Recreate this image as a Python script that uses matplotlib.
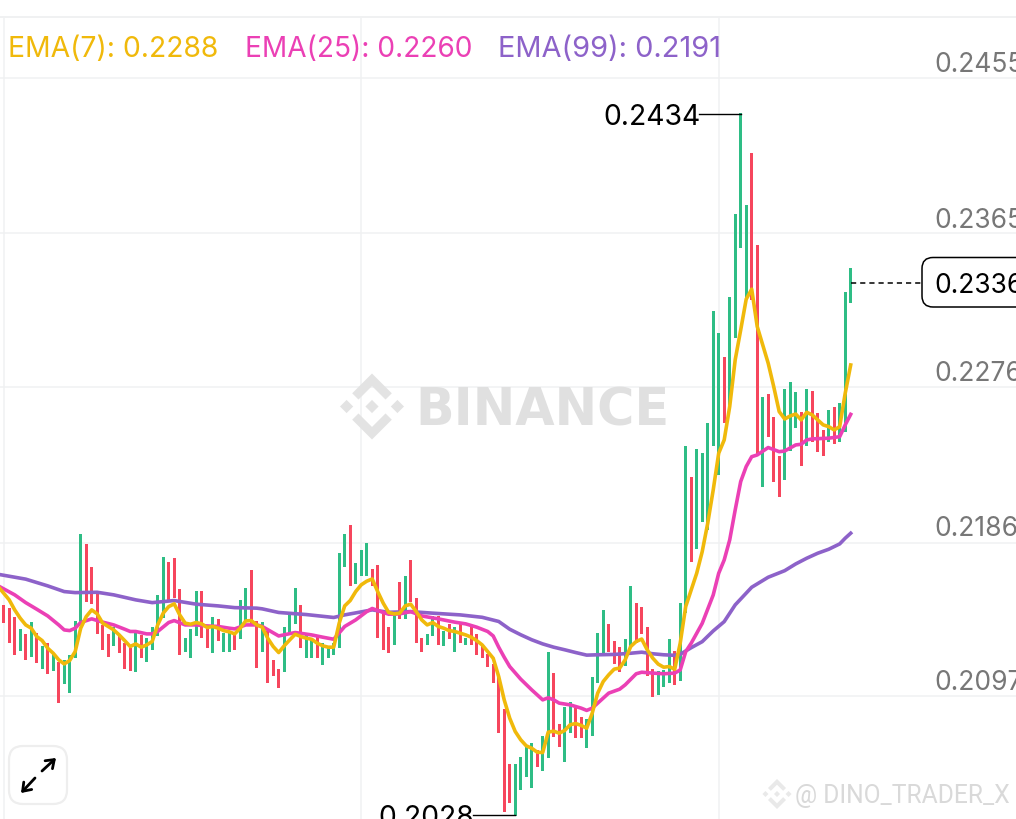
import numpy as np
import matplotlib
matplotlib.use("Agg")
import matplotlib.pyplot as plt
from matplotlib.patches import FancyBboxPatch, Polygon
from matplotlib.patches import FancyArrowPatch

# prices in units of 0.00001
body_high = [21499,21480,21428,21358,21329,21397,21339,21258,21277,21219,
21167,21177,21208,21408,21910,21850,21719,21567,21383,21331,
21370,21316,21277,21248,21339,21325,21308,21370,21559,21779,
21750,21769,21590,21306,21358,21578,21578,21364,21428,21418,
21339,21339,21325,21528,21599,21700,21406,21397,21345,21181,
21126,21370,21447,21599,21497,21325,21306,21316,21277,21248,
21277,21798,21910,21960,21740,21819,21860,21707,21729,21470,
21370,21460,21630,21669,21760,21538,21310,21329,21437,21437,
21350,21387,21370,21387,21310,21370,21329,21260,21215,21157,
21094,20897,20578,20578,20619,20677,20700,20659,20741,21227,
21105,20810,20908,20937,20903,20851,20839,21082,21337,21470,
21389,21291,21256,21302,21609,21511,21487,21372,21128,21117,
21123,21302,21233,21511,22420,22240,22402,22379,22553,23201,
23074,22935,23282,23763,24348,23815,24116,23583,22703,22721,
22588,22362,22750,22790,22732,22617,22750,22738,22611,22512,
22628,22645,22669,23311,23450]
body_low = [21393,21281,21211,21231,21181,21200,21161,21130,21101,21119,
20932,21042,20991,21190,21393,21518,21505,21329,21238,21200,
21262,21219,21130,21119,21109,21190,21171,21238,21319,21422,
21528,21538,21211,21229,21190,21319,21310,21248,21219,21290,
21229,21229,21238,21300,21402,21383,21132,21229,21049,21090,
21020,21109,21325,21389,21252,21190,21190,21190,21152,21190,
21209,21252,21721,21611,21621,21669,21669,21611,21310,21238,
21219,21269,21420,21420,21518,21281,21229,21269,21319,21269,
21260,21300,21229,21281,21269,21269,21209,21190,21140,21047,
20758,20301,20353,20277,20428,20503,20439,20561,20538,20613,
20735,20677,20590,20758,20729,20729,20671,20741,21047,21221,
21227,21157,21111,21146,21262,21279,21331,21088,20966,20978,
21024,21047,21036,21059,21453,21748,21823,21980,21933,22420,
22252,22553,22657,23045,23566,23265,23265,22368,22182,22472,
22211,22124,22223,22391,22524,22304,22420,22443,22385,22362,
22443,22431,22443,22501,23248]
directions = ("RRRGRGRGRG" "RGGGGRRRRR" "GRRRGRGGGG" "RRRGGGRRGR" "GGRGGRRGRR"
              "RGGGRGGRGG" "GGGRGGGRRR" "RGRGRRRGGR" "GRGRGRRRRR" "RRRGGGGRGG"
              "RRGGRRGGGG" "RRRGGRRRRG" "GGRGGRGGGG" "GRGGGGRRGR" "RRGGGRGRRR" "GRGGG")

ema7_idx = list(range(-1, 155))
ema7 = [21605,21566,21528,21470,21422,21383,21364,21316,21292,21248,21219,
21181,21157,21177,21229,21364,21431,21470,21447,21393,21374,
21354,21325,21292,21258,21273,21254,21267,21287,21383,21451,
21489,21505,21441,21393,21387,21397,21389,21368,21374,21364,
21350,21343,21331,21364,21406,21408,21383,21370,21306,21258,
21223,21262,21296,21329,21316,21306,21300,21277,21262,21254,
21254,21393,21493,21524,21576,21615,21636,21649,21576,21509,
21455,21447,21451,21493,21503,21460,21412,21383,21397,21374,
21364,21350,21345,21335,21325,21312,21292,21267,21229,21190,
21084,20949,20843,20766,20718,20683,20669,20646,20644,20762,
20768,20756,20772,20805,20812,20801,20785,20872,20988,21055,
21094,21127,21133,21181,21258,21287,21301,21239,21191,21156,
21138,21142,21126,21277,21489,21585,21682,21807,21971,22164,
22377,22454,22647,22918,23091,23269,23327,23111,23004,22898,
22763,22618,22575,22593,22604,22570,22614,22599,22570,22541,
22531,22512,22531,22724,22888]

ema25_idx = [-1,2,4,6,8,10,11,12,13,14,16,18,20,22,23,24,26,27,28,30,31,33,35,37,39,41,42,44,46,47,
50,53,56,58,60,62,64,66,67,69,70,72,74,76,79,82,84,86,88,89,90,91,92,94,96,98,99,100,101,103,
105,106,107,108,110,112,113,115,116,118,120,122,123,124,125,127,129,130,131,132,133,134,135,136,137,
139,141,142,144,145,146,147,150,152,153,154]
ema25 = [21609,21557,21512,21474,21435,21383,21354,21350,21364,21397,21418,21399,21383,21358,21345,21345,21331,21331,21345,21397,21408,21383,21383,21377,21374,21364,21360,21383,21383,21374,
21319,21339,21325,21312,21300,21374,21412,21460,21478,21455,21445,21447,21460,21435,21418,21399,21389,21370,21345,21319,21254,21196,21142,21069,21007,20949,20961,20949,20930,20920,
20901,20888,20901,20930,20988,21011,21036,21100,21109,21104,21100,21104,21122,21228,21277,21392,21556,21682,21759,21875,22049,22213,22300,22357,22367,
22410,22386,22390,22425,22429,22454,22460,22464,22473,22541,22602]

ema99_idx = [-1,4,8,11,13,17,20,24,27,31,35,39,42,46,47,50,55,60,62,67,70,74,78,83,87,90,92,94,96,98,
100,102,104,106,108,111,114,116,118,120,122,123,125,127,129,131,133,136,139,142,144,146,148,150,152,153,154]
ema99 = [21676,21648,21609,21576,21570,21572,21557,21528,21512,21524,21503,21493,21483,21480,21476,21455,21443,21426,21441,21470,21456,21460,21451,21441,21427,21403,21358,21326,21297,21273,
21254,21239,21223,21208,21210,21212,21219,21225,21216,21210,21207,21213,21251,21286,21348,21402,21499,21601,21659,21697,21736,21769,21798,21821,21852,21885,21914]

price_ticks = [0.2455, 0.2365, 0.2276, 0.2186, 0.2097]
time_grid = [0, 65, 130]
last_price = 0.2336
high_price, high_idx = 0.2434, 134
low_price, low_idx = 0.2028, 93
legend_items = [("EMA(7): 0.2288", 8, 20.4), ("EMA(25): 0.2260", 245, 20.2), ("EMA(99): 0.2191", 498, 20.9)]

GREEN, RED = "#2EBD85", "#F6465D"
YEL, MAG, PUR = "#F0B90B", "#EB40B5", "#8D62C9"
GRID, GREY = "#F0F1F2", "#777777"
FONT = "Inter"
FS = 20.4
FS_AXIS = 19

fig = plt.figure(figsize=(10.16, 8.2), dpi=100, facecolor="white")
ax = fig.add_axes([0, 0, 1, 1])
ax.set_xlim((0 - 3.7) / 5.5, (1016 - 3.7) / 5.5)
ax.set_ylim(0.25007 - 0.0000579 * 820, 0.25007)
ax.axis("off")

# overlay in pixel space for the interface furniture
ui = fig.add_axes([0, 0, 1, 1], zorder=5)
ui.set_xlim(0, 1016); ui.set_ylim(820, 0); ui.axis("off"); ui.patch.set_alpha(0)

for p in price_ticks:
    ax.axhline(p, color=GRID, lw=1.1, zorder=1)
for t in time_grid:
    ax.axvline(t, ymax=(820 - 18) / 820, color=GRID, lw=1.1, zorder=1)
ui.axhline(18, color=GRID, lw=1.4, zorder=1)

def logo(a, cx, cy, s, color, zorder=2):
    """Binance diamond: centre square and four chevrons."""
    def d(x, y, r):
        return [(cx + x * s, cy + (y - r) * s), (cx + (x + r) * s, cy + y * s),
                (cx + x * s, cy + (y + r) * s), (cx + (x - r) * s, cy + y * s)]
    a.add_patch(Polygon(d(0, 0, .2), color=color, lw=0, zorder=zorder))
    a.add_patch(Polygon(d(-.77, 0, .2), color=color, lw=0, zorder=zorder))
    a.add_patch(Polygon(d(.77, 0, .2), color=color, lw=0, zorder=zorder))
    top = [(0, -1), (.6, -.4), (.41, -.21), (0, -.62), (-.41, -.21), (-.6, -.4)]
    a.add_patch(Polygon([(cx + x * s, cy + y * s) for x, y in top], color=color, lw=0, zorder=zorder))
    a.add_patch(Polygon([(cx + x * s, cy - y * s) for x, y in top], color=color, lw=0, zorder=zorder))

logo(ui, 372, 407.5, 33, "#E3E3E3")
ui.text(415, 412, "BINANCE", family="DejaVu Sans", weight="bold", fontsize=36.6, color="#E0E0E0",
        va="center", ha="left", zorder=2)

logo(ui, 777, 795, 15, "#E9E9E9")
ui.text(795, 796, "@ DINO_TRADER_X", family="Roboto", fontsize=17.7, color="#D9D9D9", va="center", ha="left", zorder=6)

xs = np.arange(len(body_high))
hi = np.array(body_high) / 1e5
lo = np.array(body_low) / 1e5
cols = [GREEN if c == "G" else RED for c in directions]
ax.bar(xs, hi - lo, bottom=lo, width=3.0 / 5.5, color=cols, linewidth=0, zorder=3)

ax.plot(ema99_idx, np.array(ema99) / 1e5, color=PUR, lw=2.6, zorder=4, solid_joinstyle="round")
ax.plot(ema25_idx, np.array(ema25) / 1e5, color=MAG, lw=2.6, zorder=5, solid_joinstyle="round")
ax.plot(ema7_idx, np.array(ema7) / 1e5, color=YEL, lw=2.6, zorder=6, solid_joinstyle="round")

for (s, x, fs), c in zip(legend_items, [YEL, MAG, PUR]):
    ui.text(x, 49.5, s, family=FONT, fontsize=fs, color=c, va="center", ha="left")

for p, y in zip(price_ticks, [65.5, 220.5, 374.5, 529.5, 683.5]):
    ui.text(934.5, y, f"{p:.4f}", family=FONT, fontsize=FS_AXIS, color=GREY, va="center", ha="left")

# last price
ax.plot([154.1, (922 - 3.7) / 5.5], [last_price + 0.00002] * 2, color="black", lw=1.1, ls=(0, (3.4, 2.6)), zorder=6)
ui.add_patch(FancyBboxPatch((922, 258.5), 130, 49.5, boxstyle="round,pad=0,rounding_size=11",
                            fc="white", ec="black", lw=1.1, zorder=7))
ui.text(934.5, 286.5, f"{last_price:.4f}", family=FONT, fontsize=FS_AXIS, color="black", va="center", ha="left", zorder=8)

# high / low
ax.plot([high_idx - 42 / 5.5, high_idx], [high_price] * 2, color="black", lw=1, zorder=6)
ui.text(603.5, 117.5, f"{high_price:.4f}", family=FONT, fontsize=FS, color="black", va="center", ha="left")
ax.plot([low_idx - 42 / 5.5, low_idx], [low_price] * 2, color="black", lw=1, zorder=6)
ui.text(378.5, 818.5, f"{low_price:.4f}", family=FONT, fontsize=FS, color="black", va="center", ha="left")

# expand button
ui.add_patch(FancyBboxPatch((9, 747), 58, 58, boxstyle="round,pad=0,rounding_size=14",
                            fc="white", ec="#EEEEEE", lw=1.6, zorder=7))
ui.add_patch(FancyArrowPatch((42, 772), (56, 759), arrowstyle="->,head_length=3.6,head_width=2.6", mutation_scale=1.5,
                             color="black", lw=2.0, zorder=8, shrinkA=0, shrinkB=0))
ui.add_patch(FancyArrowPatch((35, 779), (21, 794), arrowstyle="->,head_length=3.6,head_width=2.6", mutation_scale=1.5,
                             color="black", lw=2.0, zorder=8, shrinkA=0, shrinkB=0))

fig.savefig("out.png", dpi=100, facecolor="white")
